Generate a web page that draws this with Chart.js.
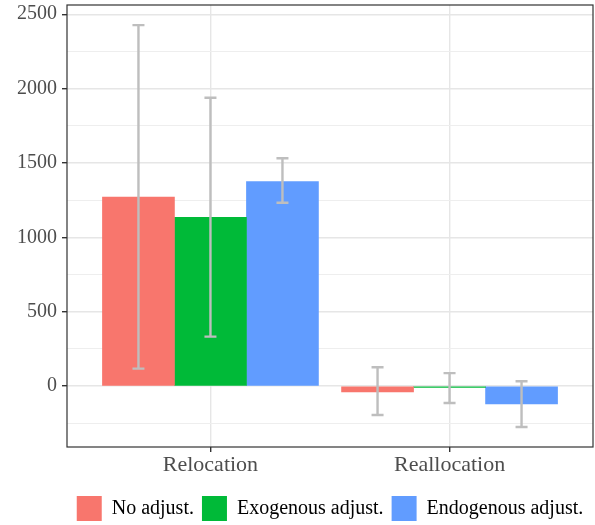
<!DOCTYPE html>
<html>
<head>
<meta charset="utf-8">
<script src="https://cdn.jsdelivr.net/npm/chart.js@4/dist/chart.umd.min.js"></script>
<style>
  html, body { margin: 0; padding: 0; background: #fff; }
  #wrap { width: 595px; height: 525px; }
</style>
</head>
<body>
<div id="wrap"><canvas id="chart"></canvas></div>
<script>
const categories = ['Relocation', 'Reallocation'];
const seriesNames = ['No adjust.', 'Exogenous adjust.', 'Endogenous adjust.'];
const seriesColors = ['#F8766D', '#00BA38', '#619CFF'];

const noAdjust = [1270, -40];
const noAdjustLow = [117, -195];
const noAdjustHigh = [2427, 126];

const exoAdjust = [1135, -10];
const exoAdjustLow = [332, -114];
const exoAdjustHigh = [1938, 87];

const endoAdjust = [1375, -121];
const endoAdjustLow = [1232, -276];
const endoAdjustHigh = [1532, 32];

const yMajorTicks = [0, 500, 1000, 1500, 2000, 2500];
const yMinorTicks = [-250, 250, 750, 1250, 1750, 2250];

const SERIF = '"Liberation Serif", "DejaVu Serif", serif';

function toPoints(values) {
  return values.map((v, i) => ({ x: i + 1, y: v }));
}

function makeDataset(idx, values, low, high) {
  return {
    label: seriesNames[idx],
    data: toPoints(values),
    backgroundColor: seriesColors[idx],
    borderWidth: 0,
    errLow: low,
    errHigh: high
  };
}

// grey error bars on top of each bar, placed via the y scale
const errorBarPlugin = {
  id: 'errorBars',
  afterDatasetsDraw(chart) {
    const ctx = chart.ctx;
    const yScale = chart.scales.y;
    ctx.save();
    ctx.strokeStyle = '#BEBEBE';
    ctx.lineWidth = 2.4;
    chart.data.datasets.forEach((ds, di) => {
      const meta = chart.getDatasetMeta(di);
      meta.data.forEach((bar, i) => {
        const x = bar.x;
        const yLo = yScale.getPixelForValue(ds.errLow[i]);
        const yHi = yScale.getPixelForValue(ds.errHigh[i]);
        const cap = 6;
        ctx.beginPath();
        ctx.moveTo(x, yLo);
        ctx.lineTo(x, yHi);
        ctx.moveTo(x - cap, yLo);
        ctx.lineTo(x + cap, yLo);
        ctx.moveTo(x - cap, yHi);
        ctx.lineTo(x + cap, yHi);
        ctx.stroke();
      });
    });
    ctx.restore();
  }
};

const panelBorderPlugin = {
  id: 'panelBorder',
  afterDraw(chart) {
    const a = chart.chartArea;
    const ctx = chart.ctx;
    ctx.save();
    ctx.strokeStyle = '#333333';
    ctx.lineWidth = 1.2;
    ctx.strokeRect(a.left, a.top, a.right - a.left, a.bottom - a.top);
    ctx.restore();
  }
};

const isMajor = (v) => yMajorTicks.includes(v);

new Chart(document.getElementById('chart'), {
  type: 'bar',
  data: {
    datasets: [
      makeDataset(0, noAdjust, noAdjustLow, noAdjustHigh),
      makeDataset(1, exoAdjust, exoAdjustLow, exoAdjustHigh),
      makeDataset(2, endoAdjust, endoAdjustLow, endoAdjustHigh)
    ]
  },
  options: {
    responsive: true,
    maintainAspectRatio: false,
    animation: false,
    barThickness: 72,
    layout: { padding: { left: 0, right: 2, top: 5, bottom: -6 } },
    plugins: {
      tooltip: { enabled: false },
      legend: {
        position: 'bottom',
        fullSize: false,
        labels: {
          boxWidth: 25,
          boxHeight: 25,
          padding: 8,
          color: '#000000',
          font: { family: SERIF, size: 20 }
        }
      }
    },
    scales: {
      x: {
        type: 'linear',
        min: 0.4,
        max: 2.6,
        offset: false,
        afterBuildTicks: (scale) => {
          scale.ticks = categories.map((c, i) => ({ value: i + 1 }));
        },
        afterFit: (scale) => {
          scale.height = 41;
          scale.paddingLeft = 0;
          scale.paddingRight = 0;
        },
        ticks: {
          autoSkip: false,
          maxRotation: 0,
          padding: 0,
          color: '#4D4D4D',
          font: { family: SERIF, size: 22 },
          callback: (v) => categories[v - 1]
        },
        grid: {
          offset: false,
          color: '#E6E6E6',
          lineWidth: 1.4,
          tickLength: 5,
          tickColor: '#333333'
        },
        border: { display: false }
      },
      y: {
        min: -410,
        max: 2562,
        afterBuildTicks: (scale) => {
          scale.ticks = [...yMajorTicks, ...yMinorTicks].sort((a, b) => a - b).map((v) => ({ value: v }));
        },
        afterFit: (scale) => {
          scale.width = 67;
          scale.paddingTop = 0;
          scale.paddingBottom = 0;
        },
        ticks: {
          padding: 5,
          color: '#4D4D4D',
          font: { family: SERIF, size: 20 },
          callback: (v) => (isMajor(v) ? String(v) : '')
        },
        grid: {
          color: (c) => (isMajor(c.tick.value) ? '#E6E6E6' : '#EEEEEE'),
          lineWidth: (c) => (isMajor(c.tick.value) ? 1.4 : 1),
          tickLength: 5,
          tickColor: (c) => (isMajor(c.tick.value) ? '#333333' : 'rgba(0,0,0,0)')
        },
        border: { display: false }
      }
    }
  },
  plugins: [errorBarPlugin, panelBorderPlugin]
});
</script>
</body>
</html>
